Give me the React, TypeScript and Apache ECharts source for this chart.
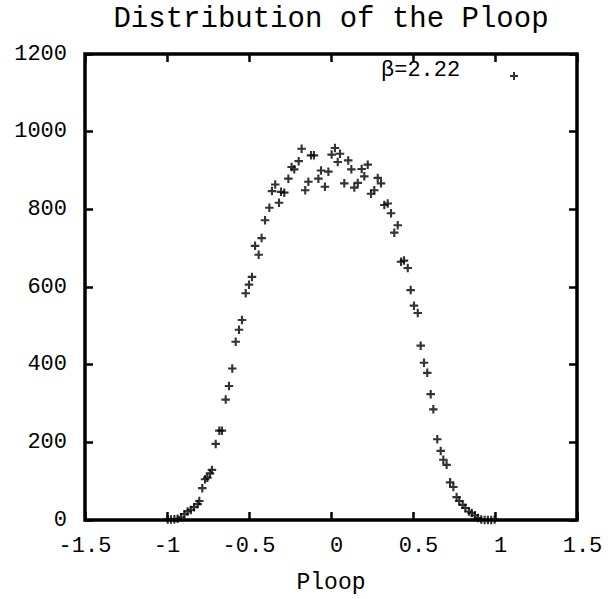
import React, { useEffect, useRef } from "react";
import * as echarts from "echarts";

const ploopX = [
  -0.996, -0.976, -0.955, -0.935, -0.915, -0.894, -0.874, -0.855, -0.835, -0.813,
  -0.803, -0.785, -0.768, -0.754, -0.738, -0.726, -0.703, -0.681, -0.665, -0.642,
  -0.622, -0.602, -0.581, -0.561, -0.543, -0.52, -0.5, -0.482, -0.463, -0.441,
  -0.423, -0.402, -0.376, -0.36, -0.34, -0.317, -0.305, -0.285, -0.26, -0.24,
  -0.224, -0.197, -0.179, -0.157, -0.138, -0.122, -0.104, -0.077, -0.061, -0.037,
  -0.016, 0.004, 0.024, 0.041, 0.055, 0.081, 0.105, 0.124, 0.142, 0.163,
  0.187, 0.203, 0.224, 0.244, 0.264, 0.285, 0.305, 0.325, 0.346, 0.366,
  0.386, 0.407, 0.427, 0.445, 0.468, 0.486, 0.506, 0.529, 0.547, 0.567,
  0.587, 0.608, 0.624, 0.648, 0.669, 0.685, 0.705, 0.726, 0.746, 0.766,
  0.782, 0.803, 0.819, 0.841, 0.858, 0.878, 0.896, 0.916, 0.937, 0.957,
  0.977, 0.998,
];

const counts = [
  1, 1, 2, 3, 7, 15, 22, 26, 33, 41,
  49, 82, 105, 109, 120, 129, 196, 230, 230, 310,
  345, 390, 459, 490, 515, 584, 606, 626, 706, 683,
  726, 772, 804, 847, 864, 817, 845, 843, 879, 909,
  903, 924, 956, 849, 871, 939, 939, 879, 900, 858,
  897, 941, 958, 922, 943, 867, 926, 903, 856, 868,
  904, 885, 915, 840, 849, 881, 867, 811, 815, 790,
  740, 759, 665, 668, 649, 592, 552, 533, 449, 405,
  379, 324, 285, 208, 178, 155, 142, 97, 85, 59,
  49, 39, 31, 22, 18, 12, 5, 1, 0, 0,
  0, 1,
];

const seriesName = "β=2.22";
const titleText = "Distribution of the Ploop";
const xAxisName = "Ploop";

const FONT = "'Liberation Mono', 'DejaVu Sans Mono', monospace";
const PLUS = "path://M3,0H5V3H8V5H5V8H3V5H0V3H3Z";

export default function App() {
  const ref = useRef<HTMLDivElement>(null);

  useEffect(() => {
    if (!ref.current) return;
    const chart = echarts.init(ref.current, undefined, { renderer: "svg" });
    const data = ploopX.map((x, i) => [x, counts[i]]);
    const axisLine = () => ({ show: false, onZero: false });
    const axisTick = () => ({ show: true, inside: true, length: 8, lineStyle: { color: "#000", width: 2.5 } });
    const plain = (v: number) => String(v);
    const labelStyle = { fontFamily: FONT, fontSize: 22, color: "#000" };
    chart.setOption({
      animation: false,
      backgroundColor: "#fff",
      title: {
        text: titleText,
        left: 331,
        top: 5,
        textAlign: "center",
        padding: 0,
        textStyle: { fontFamily: FONT, fontSize: 29, fontWeight: "normal", color: "#000" },
      },
      legend: {
        data: [{ name: seriesName, icon: PLUS }],
        left: 381,
        top: 59,
        padding: 0,
        align: "right",
        itemWidth: 8,
        itemHeight: 8,
        formatter: (n: string) => "{a|" + n + "}",
        textStyle: {
          fontFamily: FONT,
          fontSize: 22,
          color: "#000",
          rich: {
            a: { ...labelStyle, width: 124, align: "left", padding: [0, 0, 12, 0] },
          },
        },
      },
      grid: {
        left: 85,
        right: 31,
        top: 54,
        bottom: 77,
        containLabel: false,
        show: true,
        borderWidth: 3.5,
        borderColor: "#000",
        backgroundColor: "transparent",
      },
      xAxis: [
        {
          type: "value",
          position: "bottom",
          min: -1.5,
          max: 1.5,
          interval: 0.5,
          name: xAxisName,
          nameLocation: "middle",
          nameGap: 51,
          nameTextStyle: { fontFamily: FONT, fontSize: 23, color: "#000" },
          axisLine: axisLine(),
          axisTick: axisTick(),
          splitLine: { show: false },
          axisLabel: {
            ...labelStyle,
            margin: 15,
            formatter: (v: number) => (v >= 0 ? "{p|" + v + "}" : "{n|" + v + "}"),
            rich: {
              p: { ...labelStyle, padding: [0, 0, 0, 11] },
              n: { ...labelStyle },
            },
          },
        },
        {
          type: "value",
          position: "top",
          min: -1.5,
          max: 1.5,
          interval: 0.5,
          axisLine: axisLine(),
          axisTick: axisTick(),
          splitLine: { show: false },
          axisLabel: { show: false },
        },
      ],
      yAxis: [
        {
          type: "value",
          position: "left",
          min: 0,
          max: 1200,
          interval: 200,
          axisLine: axisLine(),
          axisTick: axisTick(),
          splitLine: { show: false },
          axisLabel: { ...labelStyle, margin: 18, formatter: plain },
        },
        {
          type: "value",
          position: "right",
          min: 0,
          max: 1200,
          interval: 200,
          axisLine: axisLine(),
          axisTick: axisTick(),
          splitLine: { show: false },
          axisLabel: { show: false },
        },
      ],
      series: [
        {
          name: seriesName,
          type: "scatter",
          xAxisIndex: 0,
          yAxisIndex: 0,
          symbol: PLUS,
          symbolSize: 8.5,
          itemStyle: { color: "#000" },
          data,
        },
      ],
    });
    return () => chart.dispose();
  }, []);

  return (
    <div
      ref={ref}
      style={{ position: "fixed", left: 0, top: 0, width: 608, height: 599, background: "#fff" }}
    />
  );
}
